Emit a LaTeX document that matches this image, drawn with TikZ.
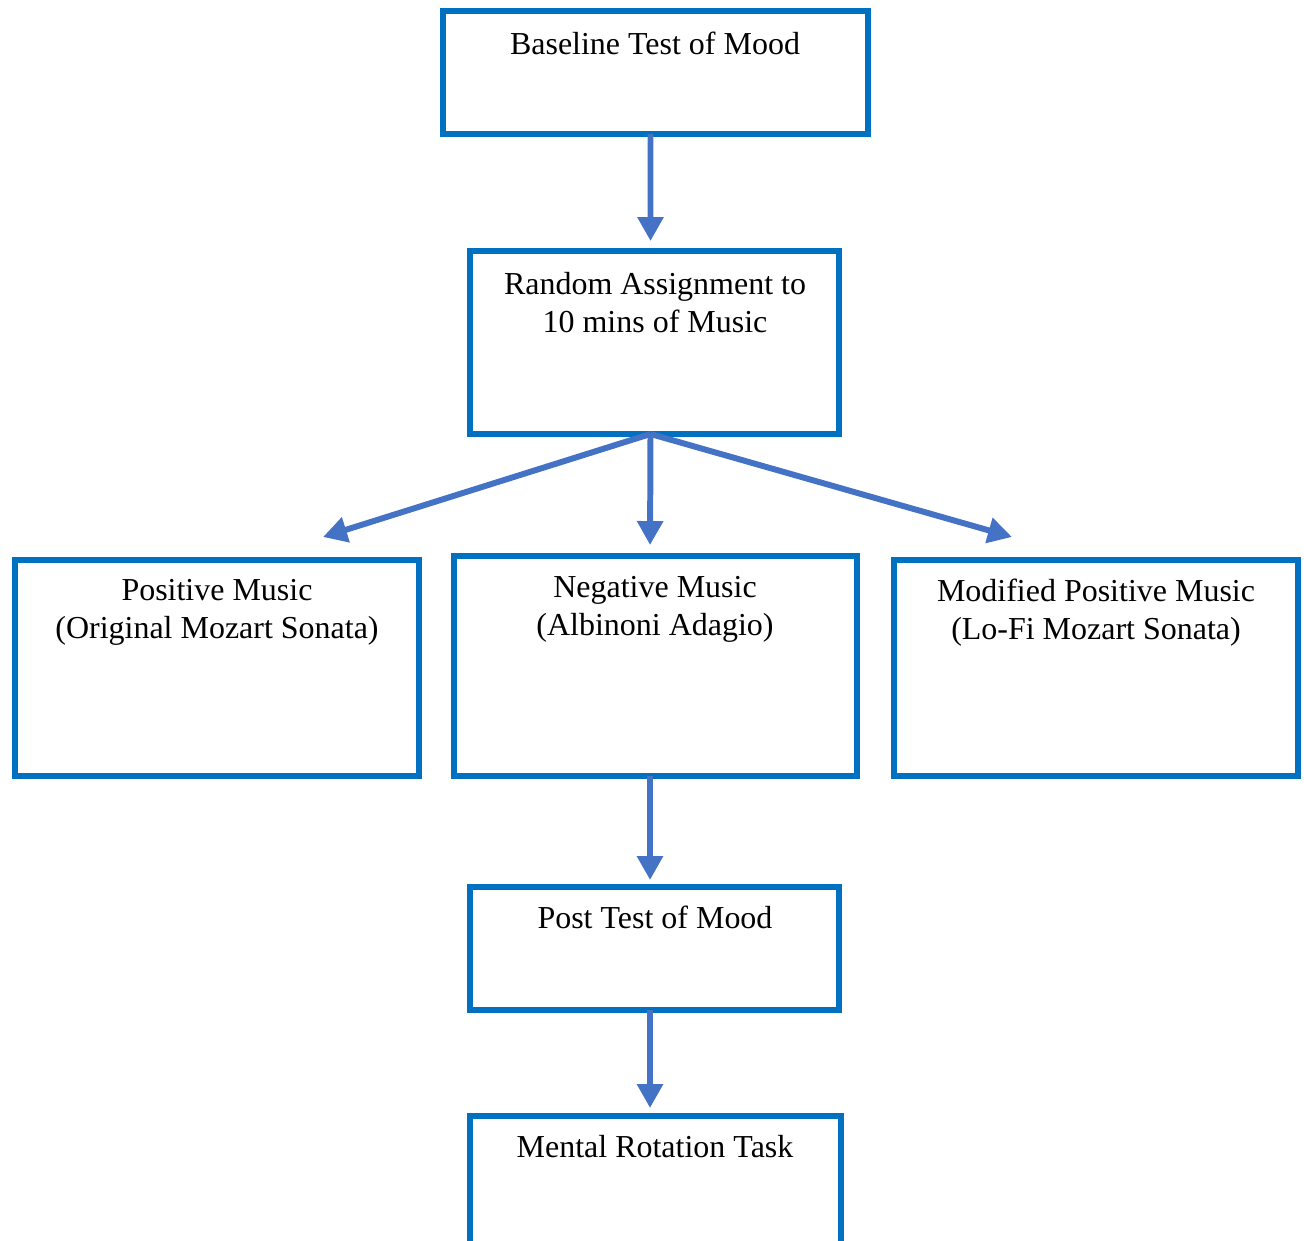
\documentclass[tikz,border=0pt]{standalone}
\usepackage{fontspec}
\setmainfont{Liberation Serif}
\usetikzlibrary{arrows.meta}
\definecolor{boxblue}{HTML}{0070C0}
\definecolor{arrowblue}{HTML}{4472C4}

\begin{document}
\begin{tikzpicture}[x=0.02cm,y=-0.02cm,
  stagebox/.style={draw=boxblue,line width=3.9pt,rectangle,inner sep=0pt,outer sep=0pt},
  stagetext/.style={anchor=north,font=\fontsize{18.2}{21.5}\selectfont,align=center,inner sep=0pt},
  flow/.style={draw=arrowblue,line width=3.4pt,-{Triangle[width=0.5cm,length=0.48cm]}}]
\useasboundingbox (0,0) rectangle (1304,1240);
\node[stagebox,minimum width=8.5cm,minimum height=2.46cm] (base) at (655.5,72.5) {};
\node[stagetext] (baseT) at (655,32) {Baseline Test of Mood};
\node[stagebox,minimum width=7.38cm,minimum height=3.66cm] (rand) at (654.5,342.5) {};
\node[stagetext] (randT) at (655,272) {Random Assignment to\\10 mins of Music};
\node[stagebox,minimum width=8.08cm,minimum height=4.32cm] (pos) at (217,668) {};
\node[stagetext] (posT) at (217,579) {Positive Music\\(Original Mozart Sonata)};
\node[stagebox,minimum width=8.06cm,minimum height=4.4cm] (neg) at (655.5,666) {};
\node[stagetext] (negT) at (655,576) {Negative Music\\(Albinoni Adagio)};
\node[stagebox,minimum width=8.08cm,minimum height=4.32cm] (mod) at (1096,668) {};
\node[stagetext] (modT) at (1096,579) {Modified Positive Music\\(Lo-Fi Mozart Sonata)};
\node[stagebox,minimum width=7.38cm,minimum height=2.46cm] (post) at (654.5,948.5) {};
\node[stagetext] (postT) at (655,906) {Post Test of Mood};
\node[stagebox,minimum width=7.42cm,minimum height=2.88cm] (task) at (655.5,1188) {};
\node[stagetext] (taskT) at (655,1135) {Mental Rotation Task};
% arrow ends
\coordinate (tipL) at (323,537);
\coordinate (tipR) at (1012,537);
\draw[flow,shorten >=0.2cm] ([xshift=-0.1cm]base.south) -- ([xshift=-0.08cm]rand.north);
\draw[flow] ([xshift=-0.08cm]rand.south) -- (tipL);
\draw[flow] ([xshift=-0.08cm]rand.south) -- (tipR);
\draw[flow,shorten >=0.22cm] ([xshift=-0.08cm]rand.south) -- ([xshift=-0.11cm]neg.north);
\draw[flow,shorten >=0.14cm] ([xshift=-0.11cm]neg.south) -- ([xshift=-0.09cm]post.north);
\draw[flow,shorten >=0.16cm] ([xshift=-0.09cm]post.south) -- ([xshift=-0.11cm]task.north);
\end{tikzpicture}
\end{document}
